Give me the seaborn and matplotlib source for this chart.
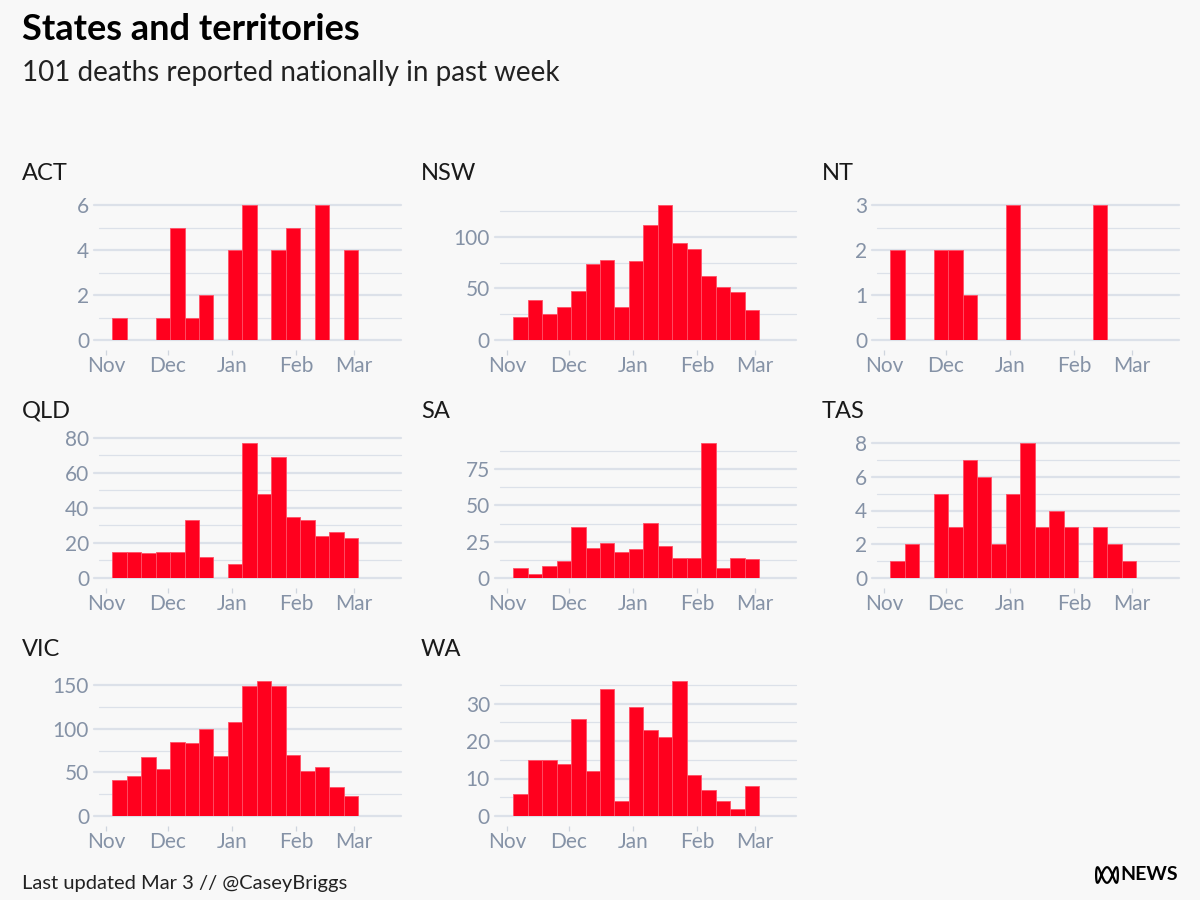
import numpy as np
import pandas as pd
import matplotlib
matplotlib.use("Agg")
import matplotlib.pyplot as plt
import matplotlib.dates as mdates
import seaborn as sns

# Weekly deaths per state, 17 weeks starting 4 Nov 2022
states = ["ACT", "NSW", "NT", "QLD", "SA", "TAS", "VIC", "WA"]
act = [1, 0, 0, 1, 5, 1, 2, 0, 4, 6, 0, 4, 5, 0, 6, 0, 4]
nsw = [22, 39, 25, 32, 48, 74, 78, 32, 77, 112, 131, 94, 88, 62, 51, 47, 29]
nt = [2, 0, 0, 2, 2, 1, 0, 0, 3, 0, 0, 0, 0, 0, 3, 0, 0]
qld = [15, 15, 14, 15, 15, 33, 12, 0, 8, 77, 48, 69, 35, 33, 24, 26, 23]
sa = [7, 3, 8, 12, 35, 21, 24, 18, 20, 38, 22, 14, 14, 93, 7, 14, 13]
tas = [1, 2, 0, 5, 3, 7, 6, 2, 5, 8, 3, 4, 3, 0, 3, 2, 1]
vic = [41, 46, 68, 54, 85, 84, 100, 69, 108, 149, 155, 149, 70, 52, 56, 33, 23]
wa = [6, 15, 15, 14, 26, 12, 34, 4, 29, 23, 21, 36, 11, 7, 4, 2, 8]
first_week = "2022-11-04"
month_labels = ["Nov", "Dec", "Jan", "Feb", "Mar"]

title = "States and territories"
subtitle = "101 deaths reported nationally in past week"
footer = "Last updated Mar 3 // @CaseyBriggs"

# y gridline step for each panel
steps = {"ACT": 2, "NSW": 50, "NT": 1, "QLD": 20, "SA": 25, "TAS": 2, "VIC": 50, "WA": 10}

# colours
RED = "#ff001e"
EDGE = "#ff5066"
GRID = "#dce1e9"
TICK_TXT = "#8592a6"
BG = "#f8f8f8"

# long table
weeks = pd.date_range(first_week, periods=len(act), freq="7D")
values = [act, nsw, nt, qld, sa, tas, vic, wa]
rows = []
for st, vals in zip(states, values):
    for w, v in zip(weeks, vals):
        rows.append({"state": st, "week": w, "deaths": v})
df = pd.DataFrame(rows)
df["wnum"] = mdates.date2num(df["week"])

sns.set_theme(style="white")
plt.rcParams["font.family"] = ["Lato", "DejaVu Sans"]

W, H = 1200, 900
fig = plt.figure(figsize=(12, 9), dpi=100)
fig.patch.set_facecolor(BG)

px_per_day = 248 / 120  # Nov 1 -> Mar 1
col_left = [99, 500, 877]
col_right = [401, 796, 1179]
row_base = [340, 578, 816]
bar_px = 135  # height of the tallest bar in every panel

month_starts = pd.date_range("2022-11-01", periods=len(month_labels), freq="MS")
nov1 = mdates.date2num(month_starts[0])
edges = list(mdates.date2num(weeks[0]) + 7 * np.arange(len(weeks) + 1))

for i, st in enumerate(states):
    r, c = divmod(i, 3)
    sub = df[df["state"] == st]
    vmax = sub["deaths"].max()
    step = steps[st]
    lines = np.arange(0, vmax * 1.05 + 1e-9, step / 2)
    top = max(vmax, lines[-1])
    left, right = col_left[c], col_right[c]
    width = right - left
    height = bar_px * top / vmax
    ax = fig.add_axes([left / W, 1 - row_base[r] / H, width / W, height / H])
    ax.set_facecolor(BG)

    sns.histplot(data=sub, x="wnum", weights="deaths", bins=edges, ax=ax,
                 color=RED, alpha=1, edgecolor=EDGE, linewidth=0.6, zorder=3)

    for v in lines:
        major = np.isclose(v % step, 0)
        ax.axhline(v, xmin=(-5 / width) if major else 0, xmax=1,
                   color=GRID, lw=1.6 if major else 0.9, zorder=0.5, clip_on=False)

    x0 = nov1 - 7 / px_per_day
    ax.set_xlim(x0, x0 + width / px_per_day)
    ax.set_ylim(0, top)

    majors = lines[np.isclose(lines % step, 0)]
    ax.set_xticks(mdates.date2num(month_starts))
    ax.set_xticklabels(month_labels)
    ax.set_yticks(majors)
    ax.set_yticklabels([f"{int(v)}" for v in majors])
    ax.spines["bottom"].set_position(("outward", 7))
    for s in ax.spines.values():
        s.set_visible(False)
    ax.tick_params(axis="x", bottom=True, length=3.6, width=0.9, color="#cfd5de",
                   pad=1, labelsize=15, labelcolor=TICK_TXT)
    ax.tick_params(axis="y", left=False, length=0, pad=7.2,
                   labelsize=15, labelcolor=TICK_TXT)
    ax.set_xlabel("")
    ax.set_ylabel("")
    ax.grid(False)

    tx = [22, 421, 822][c]
    fig.text(tx / W, 1 - (row_base[r] - 167) / H, st, fontsize=17,
             color="#1a1a1a", va="center", ha="left")

fig.text(22 / W, 1 - 30 / H, title, fontsize=26, fontweight="bold",
         color="#000000", va="center", ha="left")
fig.text(22 / W, 1 - 73 / H, subtitle, fontsize=20, color="#222222",
         va="center", ha="left")
fig.text(22 / W, 1 - 883 / H, footer, fontsize=14.5, color="#222222",
         va="center", ha="left")

# ABC NEWS mark
lax = fig.add_axes([1095 / W, 1 - 884 / H, 24 / W, 18 / H])
t = np.linspace(0, 2 * np.pi, 400)
lax.plot(np.cos(t), np.sin(3 * t), color="#000000", lw=1.6)
lax.set_xlim(-1.1, 1.1)
lax.set_ylim(-1.15, 1.15)
lax.axis("off")
fig.text(1120 / W, 1 - 875 / H, "NEWS", fontsize=14, fontweight="bold",
         color="#000000", va="center", ha="left")

fig.savefig("out.png", dpi=100, facecolor=BG)
